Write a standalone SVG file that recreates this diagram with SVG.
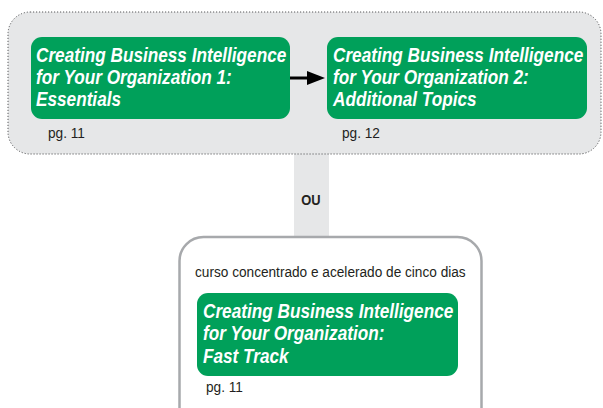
<svg xmlns="http://www.w3.org/2000/svg" width="603" height="408" viewBox="0 0 603 408">
<style>
.t{font-family:"Liberation Sans",Arial,sans-serif;font-weight:bold;font-style:italic;font-size:20px;fill:#fff}
.pg{font-family:"Liberation Sans",Arial,sans-serif;font-size:15px;fill:#231f20}
.g{fill:#00a05a}
</style>
<rect x="294" y="150" width="35" height="90" fill="#e6e7e8"/>
<rect id="group" x="8" y="12" width="593" height="142" rx="22" fill="#e6e7e8" stroke="#58595b" stroke-width="1" stroke-dasharray="1.2 1.8"/>
<g id="connectors">
<line x1="290" y1="78" x2="308" y2="78" stroke="#000" stroke-width="3"/>
<path d="M307,71 L325,78 L307,85 Z" fill="#000"/>
</g>
<g id="node1">
<rect class="g" x="31" y="37" width="259" height="82" rx="11"/>
<g transform="translate(36 0) scale(0.86 1)">
<text class="t" x="0" y="62">Creating Business Intelligence</text>
<text class="t" x="0" y="84">for Your Organization 1:</text>
<text class="t" x="0" y="106">Essentials</text>
</g>
<text class="pg" transform="translate(48 138) scale(0.91 1)">pg. 11</text>
</g>
<g id="node2">
<rect class="g" x="327" y="37" width="260" height="82" rx="11"/>
<g transform="translate(333 0) scale(0.86 1)">
<text class="t" x="0" y="62">Creating Business Intelligence</text>
<text class="t" x="0" y="84">for Your Organization 2:</text>
<text class="t" x="0" y="106">Additional Topics</text>
</g>
<text class="pg" transform="translate(342 138) scale(0.91 1)">pg. 12</text>
</g>
<text transform="translate(311 205) scale(0.86 1)" text-anchor="middle" font-family="'Liberation Sans',Arial,sans-serif" font-weight="bold" font-size="15" fill="#231f20">OU</text>
<g id="node3">
<rect x="179.5" y="237" width="302" height="200" rx="24" fill="#fff" stroke="#a7a9ac" stroke-width="2.5"/>
<text class="pg" transform="translate(195 277) scale(0.91 1)">curso concentrado e acelerado de cinco dias</text>
<rect class="g" x="197" y="293" width="261" height="83" rx="11"/>
<g transform="translate(203 0) scale(0.86 1)">
<text class="t" x="0" y="318">Creating Business Intelligence</text>
<text class="t" x="0" y="340">for Your Organization:</text>
<text class="t" x="0" y="363">Fast Track</text>
</g>
<text class="pg" transform="translate(206 392) scale(0.91 1)">pg. 11</text>
</g>
</svg>
